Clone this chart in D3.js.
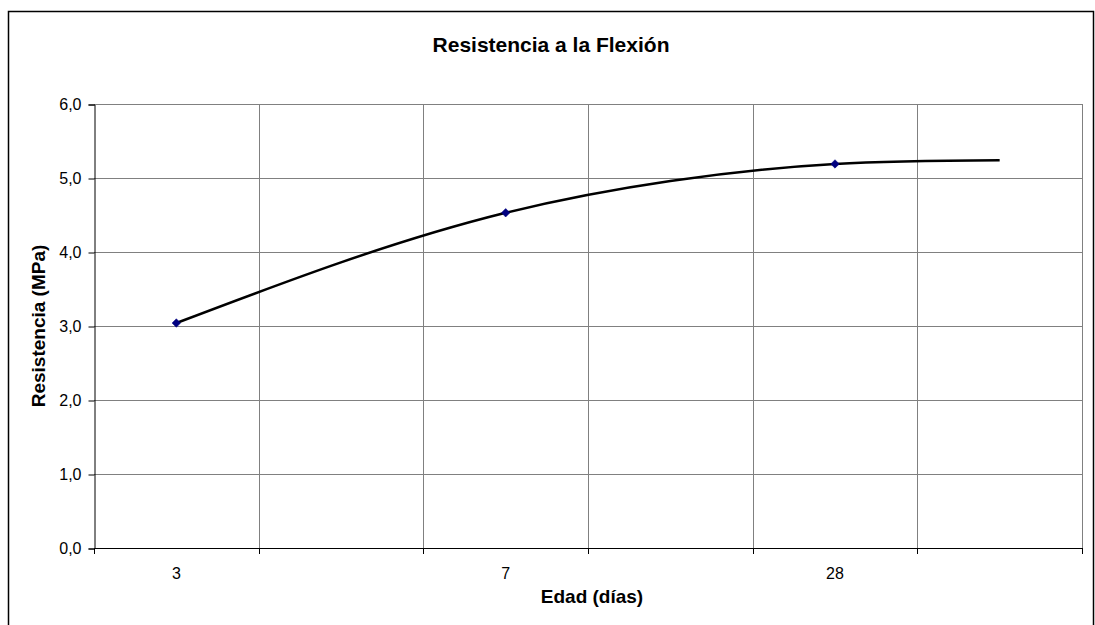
<!DOCTYPE html>
<html>
<head>
<meta charset="utf-8">
<script src="https://cdn.jsdelivr.net/npm/d3@7"></script>
<style>
  html, body { margin: 0; padding: 0; background: #fff; }
  svg { display: block; font-family: "Liberation Sans", Arial, sans-serif; }
</style>
</head>
<body>
<svg id="chart" width="1095" height="625"></svg>
<script>
// ---- data ----
const title = "Resistencia a la Flexión";
const xTitle = "Edad (días)";
const yTitle = "Resistencia (MPa)";
const categories = ["3", "", "7", "", "28", ""];
const measured = [3.04, null, 4.53, null, 5.19, null];
const trend = [3.04, 3.86, 4.53, 4.96, 5.19, 5.24];
const yTicks = [0, 1, 2, 3, 4, 5, 6];

// ---- layout ----
const W = 1095, H = 625;
const plot = { left: 94, top: 104, right: 1082, bottom: 548 };

const svg = d3.select("#chart");

// outer chart frame
svg.append("rect")
  .attr("x", 8.5).attr("y", 11.5)
  .attr("width", 1093 - 8).attr("height", 700)
  .attr("fill", "none").attr("stroke", "#000").attr("stroke-width", 1.5);

const x = d3.scaleBand()
  .domain(d3.range(categories.length))
  .range([plot.left, plot.right])
  .paddingInner(0).paddingOuter(0);

const y = d3.scaleLinear().domain([0, 6]).range([plot.bottom, plot.top]);

const locale = d3.formatLocale({ decimal: ",", thousands: ".", grouping: [3], currency: ["", "€"] });
const fmt = locale.format(".1f");

// horizontal gridlines
svg.append("g")
  .selectAll("line").data(yTicks.filter(d => d > 0)).join("line")
  .attr("x1", plot.left).attr("x2", plot.right)
  .attr("y1", d => Math.round(y(d)) + 0.5).attr("y2", d => Math.round(y(d)) + 0.5)
  .attr("stroke", "#808080").attr("stroke-width", 1);

// vertical gridlines at band boundaries
const bounds = d3.range(1, categories.length + 1).map(i => plot.left + i * x.bandwidth());
svg.append("g")
  .selectAll("line").data(bounds).join("line")
  .attr("x1", d => Math.round(d) + 0.5).attr("x2", d => Math.round(d) + 0.5)
  .attr("y1", plot.top).attr("y2", plot.bottom)
  .attr("stroke", "#808080").attr("stroke-width", 1);

// y axis
const yAxis = d3.axisLeft(y).tickValues(yTicks).tickFormat(fmt).tickSize(6).tickPadding(7);
const gy = svg.append("g").attr("transform", `translate(${plot.left + 0.5},0.5)`).call(yAxis);
gy.select(".domain").attr("stroke", "#000");
gy.selectAll(".tick line").attr("stroke", "#000");
gy.selectAll(".tick text").attr("font-size", 16).attr("fill", "#000")
  .attr("font-family", "Liberation Sans, Arial, sans-serif");

// x axis: ticks at band boundaries, labels at band centers
const gx = svg.append("g");
gx.append("line")
  .attr("x1", plot.left).attr("x2", plot.right + 1)
  .attr("y1", plot.bottom + 0.5).attr("y2", plot.bottom + 0.5)
  .attr("stroke", "#000");
gx.selectAll("line.tk").data([plot.left].concat(bounds)).join("line")
  .attr("class", "tk")
  .attr("x1", d => Math.round(d) + 0.5).attr("x2", d => Math.round(d) + 0.5)
  .attr("y1", plot.bottom).attr("y2", plot.bottom + 6)
  .attr("stroke", "#000");
gx.selectAll("text").data(categories.map((c, i) => ({ c, i })).filter(d => d.c !== "")).join("text")
  .attr("x", d => x(d.i) + x.bandwidth() / 2)
  .attr("y", 579)
  .attr("text-anchor", "middle")
  .attr("font-size", 16)
  .text(d => d.c);

// trend line
const line = d3.line()
  .x((d, i) => x(i) + x.bandwidth() / 2)
  .y(d => y(d))
  .curve(d3.curveNatural);
svg.append("path")
  .datum(trend)
  .attr("d", line)
  .attr("fill", "none")
  .attr("stroke", "#000")
  .attr("stroke-width", 2.5)
  .attr("stroke-linejoin", "round");

// markers (square rotated 45° = Excel diamond)
const pts = measured.map((v, i) => ({ v, i })).filter(d => d.v !== null);
svg.append("g").selectAll("path").data(pts).join("path")
  .attr("transform", d => `translate(${x(d.i) + x.bandwidth() / 2},${y(d.v)}) rotate(45)`)
  .attr("d", d3.symbol(d3.symbolSquare, 36))
  .attr("fill", "#000080")
  .attr("stroke", "#000080")
  .attr("stroke-width", 0.5);

// titles
svg.append("text")
  .attr("x", 551).attr("y", 52)
  .attr("text-anchor", "middle")
  .attr("font-size", 21).attr("font-weight", "bold")
  .text(title);

svg.append("text")
  .attr("x", 592).attr("y", 603)
  .attr("text-anchor", "middle")
  .attr("font-size", 19).attr("font-weight", "bold")
  .text(xTitle);

svg.append("text")
  .attr("transform", `translate(45,${(plot.top + plot.bottom) / 2}) rotate(-90)`)
  .attr("text-anchor", "middle")
  .attr("font-size", 19).attr("font-weight", "bold")
  .text(yTitle);
</script>
</body>
</html>
